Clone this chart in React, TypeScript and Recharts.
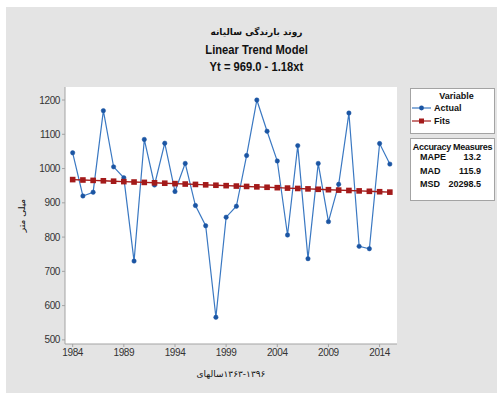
import { CartesianGrid, Line, LineChart, XAxis, YAxis } from "recharts";

// Annual rainfall 1984-2015 with Minitab-style linear trend fit.
const YEARS = [
  1984, 1985, 1986, 1987, 1988, 1989, 1990, 1991, 1992, 1993, 1994, 1995, 1996, 1997, 1998, 1999,
  2000, 2001, 2002, 2003, 2004, 2005, 2006, 2007, 2008, 2009, 2010, 2011, 2012, 2013, 2014, 2015,
];
const ACTUAL = [
  1046, 920, 931, 1169, 1005, 973, 730, 1085, 952, 1074, 933, 1015, 892, 833, 566, 858,
  890, 1038, 1200, 1109, 1022, 806, 1067, 737, 1015, 845, 954, 1162, 773, 766, 1073, 1013,
];
const FITS = [
  967.8, 966.6, 965.5, 964.3, 963.1, 961.9, 960.7, 959.6, 958.4, 957.2, 956.0, 954.8, 953.7, 952.5,
  951.3, 950.1, 948.9, 947.8, 946.6, 945.4, 944.2, 943.0, 941.9, 940.7, 939.5, 938.3, 937.1, 936.0,
  934.8, 933.6, 932.4, 931.2,
];
const X_TICKS = [1984, 1989, 1994, 1999, 2004, 2009, 2014];
const Y_TICKS = [500, 600, 700, 800, 900, 1000, 1100, 1200];
const ACCURACY = [
  { label: "MAPE", value: "13.2" },
  { label: "MAD", value: "115.9" },
  { label: "MSD", value: "20298.5" },
];

const BLUE = "#3a78c2";
const BLUE_DOT = "#1b55a3";
const RED = "#a31a1a";
const FRAME = "#a3a3a3";
const BG = "#e4e4e4";
const FONT = "'Liberation Sans', Arial, sans-serif";
const FA_FONT = "'DejaVu Sans', sans-serif";

const data = YEARS.map((year, i) => ({ year, actual: ACTUAL[i], fits: FITS[i] }));

function SquareDot(props: any) {
  const { cx, cy } = props;
  if (cx == null || cy == null) return null;
  return <rect key={props.key} x={cx - 2.8} y={cy - 2.8} width={5.6} height={5.6} fill={RED} />;
}

const tickStyle = { fontSize: 10, fill: "#333", fontFamily: FONT, letterSpacing: -0.4 };

const narrow = { display: "inline-block", transform: "scaleX(0.86)" };

export default function App() {
  return (
    <div style={{ position: "fixed", left: 0, top: 0, width: 497, height: 393, background: "#fff", overflow: "hidden" }}>
      <div style={{ position: "absolute", left: 6, top: 7, right: 0, bottom: 0, background: BG }} />

      <div style={{ position: "absolute", left: 0, width: 513, top: 27, textAlign: "center", fontFamily: FA_FONT, fontSize: 9, fontWeight: 700, color: "#111", direction: "rtl" }}>
        روند بارندگی سالیانه
      </div>
      <div style={{ position: "absolute", left: 0, width: 513, top: 42, textAlign: "center", fontFamily: FONT, fontSize: 13, fontWeight: 700, color: "#111" }}>
        <span style={narrow}>Linear Trend Model</span>
      </div>
      <div style={{ position: "absolute", left: 0, width: 513, top: 59, textAlign: "center", fontFamily: FONT, fontSize: 13, fontWeight: 700, color: "#111" }}>
        <span style={narrow}>Yt = 969.0 - 1.18xt</span>
      </div>

      <div style={{ position: "absolute", left: 0, top: 0 }}>
        <LineChart width={497} height={393} data={data} margin={{ top: 87, right: 100, bottom: 0, left: 0 }}>
          <CartesianGrid horizontal={false} vertical={false} fill="#ffffff" fillOpacity={1} />
          <XAxis
            dataKey="year"
            type="number"
            domain={[1983.25, 2015.7]}
            ticks={X_TICKS}
            height={49}
            stroke={FRAME}
            tickSize={3}
            tick={tickStyle}
            tickMargin={2}
            allowDataOverflow
          />
          <XAxis xAxisId="top" orientation="top" type="number" domain={[1983.25, 2015.7]} height={0} tick={false} tickLine={false} stroke={FRAME} />
          <YAxis
            type="number"
            domain={[488, 1238]}
            ticks={Y_TICKS}
            width={65}
            stroke={FRAME}
            tickSize={3}
            tick={tickStyle}
            tickMargin={2}
            allowDataOverflow
            label={{
              value: "میلی متر",
              angle: -90,
              position: "insideLeft",
              offset: 22,
              style: { fontFamily: FA_FONT, fontSize: 9, fill: "#111", textAnchor: "middle" },
            }}
          />
          <YAxis yAxisId="right" orientation="right" type="number" domain={[488, 1238]} width={0} tick={false} tickLine={false} stroke={FRAME} />
          <Line
            dataKey="actual"
            stroke={BLUE}
            strokeWidth={1.2}
            dot={{ r: 2.2, fill: BLUE_DOT, stroke: BLUE_DOT, strokeWidth: 0.5 }}
            isAnimationActive={false}
          />
          <Line dataKey="fits" stroke={RED} strokeWidth={1.4} dot={SquareDot} isAnimationActive={false} />
        </LineChart>
      </div>

      <div style={{ position: "absolute", left: 65, width: 332, top: 369, display: "flex", justifyContent: "center", direction: "ltr", fontFamily: FA_FONT, fontSize: 9, color: "#111" }}>
        <span>سالهای</span>
        <span>۱۳۶۳-۱۳۹۶</span>
      </div>

      <div style={{ position: "absolute", left: 410, top: 88, width: 85, height: 46, boxSizing: "border-box", background: "#fff", border: `1px solid ${FRAME}`, fontFamily: FONT, fontSize: 9, fontWeight: 700, color: "#111" }}>
        <div style={{ textAlign: "center", marginTop: 2, paddingLeft: 8 }}>Variable</div>
        <div style={{ display: "flex", alignItems: "center", height: 13 }}>
          <svg width={20} height={8} style={{ marginLeft: 1 }}>
            <line x1={0} y1={4} x2={19} y2={4} stroke={BLUE} strokeWidth={1.2} />
            <circle cx={9.5} cy={4} r={2.4} fill={BLUE_DOT} />
          </svg>
          <span style={{ marginLeft: 2 }}>Actual</span>
        </div>
        <div style={{ display: "flex", alignItems: "center", height: 13 }}>
          <svg width={20} height={8} style={{ marginLeft: 1 }}>
            <line x1={0} y1={4} x2={19} y2={4} stroke={RED} strokeWidth={1.2} />
            <rect x={7} y={1.5} width={5} height={5} fill={RED} />
          </svg>
          <span style={{ marginLeft: 2 }}>Fits</span>
        </div>
      </div>

      <div style={{ position: "absolute", left: 410, top: 138, width: 85, height: 63, boxSizing: "border-box", background: "#fff", border: `1px solid ${FRAME}`, fontFamily: FONT, fontSize: 9, fontWeight: 700, color: "#111" }}>
        <div style={{ textAlign: "center", marginTop: 3, letterSpacing: -0.3 }}>Accuracy Measures</div>
        {ACCURACY.map((a) => (
          <div key={a.label} style={{ display: "flex", height: 13.5, paddingLeft: 9, paddingRight: 13 }}>
            <span>{a.label}</span>
            <span style={{ marginLeft: "auto" }}>{a.value}</span>
          </div>
        ))}
      </div>
    </div>
  );
}
